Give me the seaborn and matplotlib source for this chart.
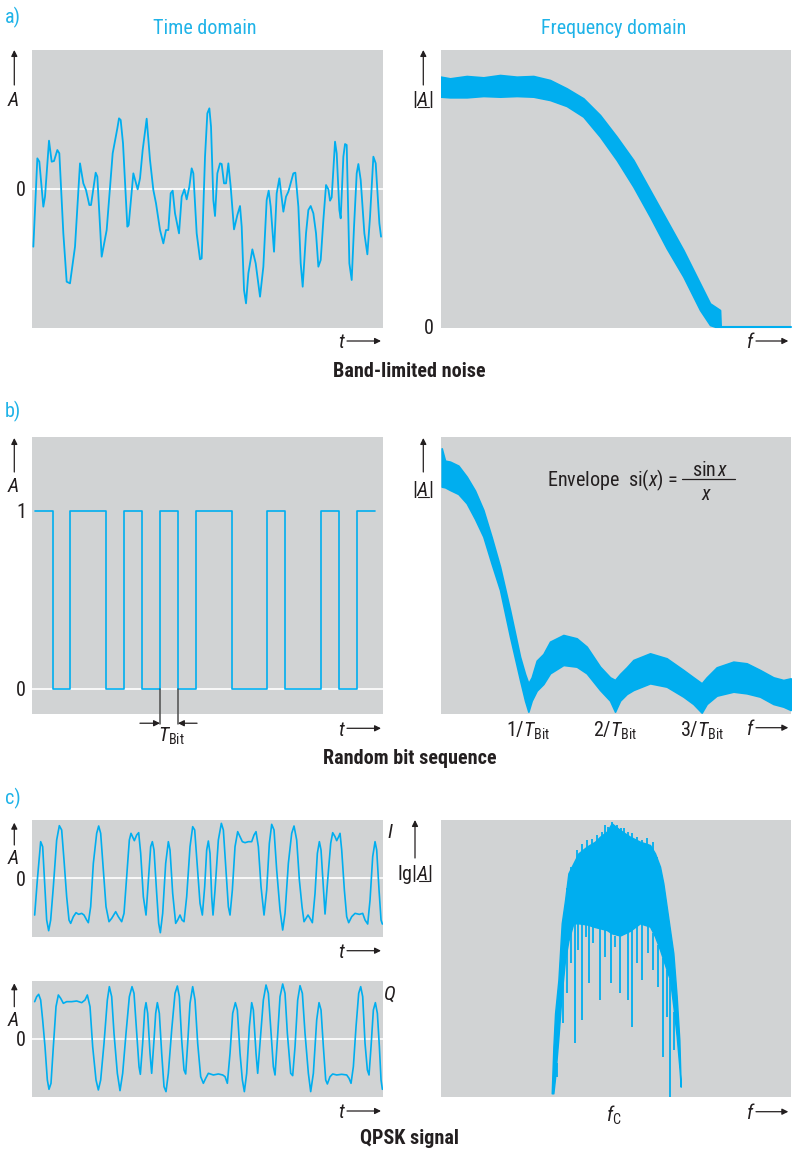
import numpy as np
import pandas as pd
import matplotlib
matplotlib.use("Agg")
import matplotlib.pyplot as plt
import seaborn as sns
from matplotlib import font_manager
from matplotlib.patches import FancyArrowPatch
from matplotlib.lines import Line2D

# ------------------------------------------------------------------ data
# a) band-limited noise, time domain (t: sample index, A: arbitrary units)
noise_t = [100, 112, 118, 130, 135, 147, 155, 162, 172, 178, 190, 200, 210, 225, 240, 250, 258, 268, 273, 287,
           292, 305, 320, 338, 352, 357, 362, 369, 382, 386, 400, 413, 420, 428, 440, 450, 460, 468, 480, 490,
           498, 505, 512, 518, 525, 537, 545, 553, 560, 568, 575, 580, 590, 600, 605, 615, 622, 628, 633, 640,
           645, 652, 660, 665, 672, 678, 685, 692, 702, 712, 720, 725, 732, 738, 745, 757, 767, 780, 790, 800,
           806, 812, 822, 830, 838, 850, 858, 865, 880, 886, 895, 902, 908, 918, 925, 932, 940, 948, 955, 962,
           970, 978, 985, 990, 995, 1005, 1010, 1018, 1022, 1030, 1035, 1040, 1048, 1055, 1062, 1070, 1075,
           1082, 1093, 1102, 1110, 1120, 1127, 1138, 1143]
noise_a = [-173, 92, 82, -53, -23, 145, 82, 84, 117, 107, -133, -278, -283, -173, 77, 17, -3, -48, -48, 49,
           37, -203, -123, 107, 182, 212, 207, 137, -113, -108, 47, -1, 32, 117, 211, 87, -3, -43, -123, -163,
           -123, -123, -13, -5, -73, -133, -23, -1, -31, 7, 62, 47, -133, -211, -208, 97, 227, 242, 187, -33,
           -81, 47, 77, 75, 17, 17, 77, 7, -121, -78, -51, -113, -303, -343, -253, -181, -223, -323, -233, -33,
           -5, -53, -188, -13, 32, -68, -23, -8, 47, 49, -53, -223, -293, -133, -63, -51, -73, -133, -233, -213,
           -93, 12, -1, -35, -25, 142, 107, -63, -88, 97, 135, 132, -223, -273, -113, 47, 75,
           27, -133, -196, -83, 97, 77, -103, -143]

# a) band-limited noise, spectrum band (f: bin, upper/lower edge of |A|)
noise_f = [122, 150, 200, 250, 300, 350, 400, 450, 500, 550, 600, 650, 700, 750, 800, 850, 900, 930, 945, 960, 962]
noise_spec_hi = [750, 745, 752, 748, 755, 750, 752, 740, 715, 685, 635, 570, 500, 410, 320, 230, 130, 70, 60, 50, 0]
noise_spec_lo = [690, 688, 688, 692, 690, 692, 690, 680, 662, 630, 570, 500, 420, 330, 235, 150, 50, 5, 0, 0, 0]
noise_floor_f = [962, 1172]
noise_floor_a = [0, 0]

# b) random bit sequence
bits = [1, 0, 1, 1, 0, 1, 0, 1, 0, 1, 1, 0, 0, 1, 0, 0, 1, 0, 1]

# b) spectrum band (f: bin, upper/lower edge of |A|)
bit_f = [125, 135, 150, 175, 200, 225, 250, 275, 300, 330, 360, 375, 385, 395, 410, 430, 450, 490, 530, 560,
         600, 630, 645, 660, 680, 700, 750, 800, 850, 880, 905, 920, 950, 1000, 1040, 1080, 1120, 1150, 1172]
bit_spec_hi = [797, 760, 757, 745, 712, 670, 612, 530, 442, 312, 172, 120, 92, 110, 160, 180, 217, 237, 227, 202,
               142, 110, 102, 120, 140, 162, 182, 167, 132, 110, 92, 110, 140, 157, 152, 132, 110, 102, 107]
bit_spec_lo = [682, 680, 672, 660, 632, 585, 532, 450, 372, 232, 102, 40, 7, 40, 70, 90, 122, 147, 142, 122,
               72, 40, 7, 40, 60, 72, 92, 82, 52, 30, 4, 30, 55, 67, 62, 52, 30, 22, 12]
bit_ticks_f = [385, 645, 905]
bit_tick_labels = [r"$1/T_{\mathrm{Bit}}$", r"$2/T_{\mathrm{Bit}}$", r"$3/T_{\mathrm{Bit}}$"]

# c) QPSK, I component
i_t = [104, 112, 122, 128, 135, 140, 146, 152, 160, 170, 178, 185, 192, 200, 207, 212, 220, 228, 236, 245,
       252, 260, 265, 272, 280, 290, 296, 302, 310, 318, 327, 335, 347, 355, 365, 372, 380, 388, 393, 403,
       410, 416, 422, 430, 438, 445, 452, 457, 462, 470, 476, 481, 488, 497, 505, 510, 518, 527, 533, 540,
       546, 552, 560, 570, 578, 584, 592, 600, 607, 614, 620, 625, 630, 635, 639, 645, 655, 664, 670, 678,
       685, 690, 697, 705, 713, 720, 727, 735, 745, 755, 762, 768, 775, 783, 792, 800, 808, 815, 822, 830,
       840, 848, 855, 865, 875, 882, 890, 898, 906, 912, 918, 924, 930, 937, 945, 952, 958, 963, 970, 975,
       983, 992, 998, 1005, 1010, 1016, 1020, 1025, 1033, 1040, 1046, 1055, 1065, 1078, 1088, 1095, 1103,
       1110, 1118, 1125, 1130, 1137, 1143, 1147]
i_a = [-110, -5, 110, 95, -35, -125, -157, -125, -25, 115, 158, 145, 55, -55, -125, -135, -115, -103, -108, -105,
       -110, -125, -133, -85, 45, 135, 157, 135, 25, -85, -130, -120, -100, -115, -130, -105, 5, 115, 135, 113,
       130, 137, 75, -55, -110, -5, 95, 110, 85, -45, -135, -163, -105, 45, 110, 85, -45, -135, -125, -110,
       -125, -130, -55, 95, 155, 145, 35, -75, -110, -25, 85, 112, 75, -55, -110, -35, 115, 165, 145, 25,
       -85, -110, -35, 95, 140, 125, 110, 107, 110, 110, 130, 140, 95, -25, -110, -35, 105, 162, 145, 25,
       -95, -155, -105, 45, 135, 157, 115, -5, -85, -130, -120, -110, -120, -133, -45, 75, 110, 85, -25, -107,
       -5, 105, 137, 125, 113, 125, 135, 85, -35, -115, -133, -115, -105, -108, -105, -125, -137,
       -65, 65, 110, 85, -35, -125, -137]

# c) QPSK, Q component
q_t = [104, 110, 116, 122, 128, 135, 142, 147, 153, 160, 168, 175, 182, 190, 200, 215, 230, 245, 255, 262,
       270, 278, 288, 295, 302, 312, 322, 328, 335, 342, 352, 360, 368, 378, 388, 396, 402, 410, 417, 421,
       428, 434, 438, 443, 450, 455, 462, 467, 472, 478, 485, 492, 498, 505, 515, 525, 532, 538, 545, 552,
       557, 563, 570, 578, 585, 593, 602, 610, 617, 625, 640, 655, 668, 675, 682, 690, 698, 706, 712, 720,
       727, 733, 740, 748, 755, 760, 768, 773, 780, 790, 798, 805, 813, 820, 825, 832, 840, 848, 855, 862,
       872, 878, 885, 893, 900, 907, 915, 925, 932, 940, 950, 957, 963, 970, 977, 982, 990, 998, 1010, 1025,
       1040, 1047, 1053, 1060, 1068, 1076, 1082, 1088, 1095, 1102, 1107, 1113, 1120, 1126, 1132, 1138, 1143, 1147]
q_a = [113, 128, 135, 118, 58, -22, -122, -150, -132, -22, 98, 133, 123, 108, 113, 113, 115, 110, 118, 133,
       98, -22, -122, -152, -122, -12, 118, 158, 128, 18, -102, -154, -102, 18, 128, 158, 138, 18, -82, -105,
       -12, 88, 110, 78, -42, -102, -2, 78, 110, 78, -42, -142, -157, -102, 28, 138, 160, 128, -2, -92,
       -104, -12, 108, 158, 118, -12, -112, -132, -117, -102, -107, -104, -107, -112, -132, -42, 78, 110, 88, -42,
       -122, -157, -102, 38, 110, 88, -42, -102, -12, 118, 163, 138, 18, -82, -107, -2, 128, 166, 138, 18,
       -102, -109, -22, 118, 161, 138, 18, -102, -157, -102, 58, 110, 88, -22, -122, -134, -112, -104, -107, -105,
       -107, -117, -132, -82, 38, 138, 158, 128, -12, -92, -107, -22, 88, 110, 78, -22, -122, -150]

# c) QPSK spectrum (f: bin, lg|A| band edges + single deep/high spectral lines)
qpsk_f_hi = [455, 460, 465, 475, 485, 495, 505, 520, 535, 560, 585, 600, 620, 635, 660, 690, 720, 750, 765,
             780, 790, 800, 810, 820, 830, 838, 842]
qpsk_hi = [11, 151, 251, 351, 521, 591, 671, 701, 731, 751, 766, 781, 796, 821, 801, 781, 766, 756, 731,
           691, 641, 571, 501, 431, 301, 171, 31]
qpsk_f_lo = [455, 460, 470, 480, 490, 500, 520, 550, 580, 620, 650, 680, 720, 750, 770, 790, 810, 825, 835, 842]
qpsk_lo = [11, 11, 101, 251, 371, 451, 521, 521, 511, 501, 481, 491, 521, 511, 471, 411, 351, 231, 131, 31]
qpsk_dip_f = [470, 478, 488, 500, 512, 525, 535, 545, 557, 567, 580, 600, 615, 632, 645, 660, 683, 697, 712,
              727, 745, 760, 775, 788, 800, 809, 822]
qpsk_dip = [61, 221, 221, 311, 401, 161, 441, 231, 481, 341, 461, 291, 421, 341, 451, 311, 291, 211, 401,
            351, 431, 381, 331, 121, 241, 1, 141]
qpsk_peak_f = [500, 512, 530, 545, 560, 575, 590, 605, 615, 625, 635, 650, 662, 672, 685, 695, 712, 725, 740,
               758, 772]
qpsk_peak = [621, 691, 741, 760, 771, 775, 786, 796, 816, 811, 826, 816, 806, 806, 796, 791, 781, 771, 776,
             766, 721]
qpsk_fc = 640

# ------------------------------------------------------------------ style
sns.set_style("white")
names = {f.name for f in font_manager.fontManager.ttflist}
FONT, FS = "Liberation Sans", 12.3
for cand in ["Roboto Condensed", "Liberation Sans Narrow", "Arial Narrow", "Open Sans Condensed",
             "Noto Sans Condensed", "DejaVu Sans Condensed"]:
    if cand in names:
        FONT, FS = cand, 14.5
        break
plt.rcParams["font.family"] = [FONT, "DejaVu Sans"]
plt.rcParams["mathtext.fontset"] = "custom"
plt.rcParams["mathtext.rm"] = FONT
plt.rcParams["mathtext.it"] = FONT + ":italic"
plt.rcParams["mathtext.bf"] = FONT + ":bold"

BG = "#d1d3d4"
BLUE = "#00aeef"
TBLUE = "#1fb3e8"
DARK = "#231f20"

W, H = 793, 1150
fig = plt.figure(figsize=(W / 100, H / 100), dpi=100)


def fx(x):
    return x / W


def fy(y):
    return 1 - y / H


def add_ax(l, t, r, b):
    ax = fig.add_axes([l / W, 1 - b / H, (r - l) / W, (b - t) / H])
    ax.set_facecolor(BG)
    for s in ax.spines.values():
        s.set_visible(False)
    ax.set_xticks([])
    ax.set_yticks([])
    ax.set_xlabel("")
    ax.set_ylabel("")
    return ax


def txt(x, y, s, ha="center", va="center_baseline", size=None, color=DARK, **kw):
    return fig.text(fx(x), fy(y), s, ha=ha, va=va, fontsize=size or FS, color=color, **kw)


def arrow(x0, y0, x1, y1):
    fig.add_artist(FancyArrowPatch((fx(x0), fy(y0)), (fx(x1), fy(y1)), transform=fig.transFigure,
                                   arrowstyle="-|>", mutation_scale=9, lw=0.9, color=DARK,
                                   shrinkA=0, shrinkB=0))


def hline(x0, x1, y, lw=0.9, color=DARK):
    fig.add_artist(Line2D([fx(x0), fx(x1)], [fy(y), fy(y)], transform=fig.transFigure, lw=lw, color=color))


def yaxis_label(x_arrow, y_from, y_to, label_x, label_y, label):
    arrow(x_arrow, y_from, x_arrow, y_to)
    txt(label_x, label_y, label, style="italic")


def t_arrow(y, x_lab=340.7, x0=347, x1=381, lab="t"):
    txt(x_lab, y, lab, style="italic")
    arrow(x0, y, x1, y)


# ------------------------------------------------------------------ a) band-limited noise
txt(5, 15, "a)", ha="left", color=TBLUE)
txt(205, 27, "Time domain", color=TBLUE)
txt(614, 27, "Frequency domain", color=TBLUE)

ax = add_ax(32, 50, 382.7, 327.7)
ax.axhline(0, color="white", lw=1.2, zorder=1)
sns.lineplot(x=noise_t, y=noise_a, ax=ax, color=BLUE, lw=1.3, estimator=None, sort=False, zorder=3)
ax.set_xlim(96, 1148)
ax.set_ylim(-416, 417)
yaxis_label(14.3, 85, 50, 13, 98, "A")
txt(21, 189, "0")
t_arrow(341)

ax = add_ax(440.7, 50, 790.7, 327.7)
ax.fill_between(noise_f, noise_spec_lo, noise_spec_hi, color=BLUE, lw=1.2, edgecolor=BLUE)
sns.lineplot(x=noise_floor_f, y=noise_floor_a, ax=ax, color=BLUE, lw=1.5, estimator=None, clip_on=False)
ax.set_xlim(122, 1172)
ax.set_ylim(-3, 830)
arrow(423.3, 85, 423.3, 50)
txt(423, 97, r"$|A|$")
hline(417.5, 428.5, 106.5, lw=0.8)
txt(429, 326, "0")
t_arrow(341, x_lab=749.3, x0=756, x1=788.3, lab="f")

txt(409, 370, "Band-limited noise", weight="bold")

# ------------------------------------------------------------------ b) random bit sequence
txt(5, 409, "b)", ha="left", color=TBLUE)

ax = add_ax(32, 437.3, 382.7, 714.3)
ax.axhline(0, color="white", lw=1.2, zorder=1)
bit_t = list(range(len(bits) + 1))
bit_v = bits + [bits[-1]]
sns.lineplot(x=bit_t, y=bit_v, ax=ax, color=BLUE, lw=1.2, estimator=None, drawstyle="steps-post", zorder=3)
ax.set_xlim(-0.15, 19.44)
ax.set_ylim(-0.14, 1.411)
for tb in (7, 8):
    ax.plot([tb, tb], [0, -0.195], color="#4d4d4d", lw=1.1, clip_on=False, zorder=4)
ax.annotate("", xy=(7, -0.19), xytext=(5.88, -0.19), annotation_clip=False,
            arrowprops=dict(arrowstyle="-|>", mutation_scale=9, lw=0.9, color=DARK, shrinkA=0, shrinkB=0))
ax.annotate("", xy=(8, -0.19), xytext=(9.07, -0.19), annotation_clip=False,
            arrowprops=dict(arrowstyle="-|>", mutation_scale=9, lw=0.9, color=DARK, shrinkA=0, shrinkB=0))
txt(171, 734, r"$T_{\mathrm{Bit}}$")
yaxis_label(14.3, 472, 438, 13, 485, "A")
txt(21, 511, "1")
txt(21, 689, "0")
t_arrow(728.3)

ax = add_ax(440.7, 437.3, 790.7, 714)
ax.fill_between(bit_f, bit_spec_lo, bit_spec_hi, color=BLUE, lw=1.2, edgecolor=BLUE)
ax.set_xlim(122, 1172)
ax.set_ylim(0, 830)
for fpos, lab in zip(bit_ticks_f, bit_tick_labels):
    ax.text(fpos, -0.022, lab, transform=ax.get_xaxis_transform(), ha="center", va="top",
            fontsize=FS, color=DARK)
arrow(423.3, 472, 423.3, 438)
txt(423, 487, r"$|A|$")
hline(417.5, 428.5, 496.5, lw=0.8)
txt(546.7, 477, r"Envelope  si$(x)$ =", ha="left")
txt(710, 469, r"sin$\,x$")
hline(682, 735, 478.5, lw=0.9)
txt(707, 493, r"$x$")
t_arrow(727.7, x_lab=749.3, x0=756, x1=788.3, lab="f")

txt(410, 757, "Random bit sequence", weight="bold")

# ------------------------------------------------------------------ c) QPSK signal
txt(5, 796, "c)", ha="left", color=TBLUE)

ax = add_ax(32, 820, 382.7, 936.7)
ax.axhline(0, color="white", lw=1.2, zorder=1)
sns.lineplot(x=i_t, y=i_a, ax=ax, color=BLUE, lw=1.2, estimator=None, sort=False, zorder=3)
ax.set_xlim(96, 1148)
ax.set_ylim(-175, 175)
yaxis_label(14.3, 845, 822.7, 13, 857, "A")
txt(21, 878, "0")
t_arrow(950.7)
txt(390, 831, "I", style="italic")

ax = add_ax(32, 981, 382.7, 1097.3)
ax.axhline(0, color="white", lw=1.2, zorder=1)
sns.lineplot(x=q_t, y=q_a, ax=ax, color=BLUE, lw=1.2, estimator=None, sort=False, zorder=3)
ax.set_xlim(96, 1148)
ax.set_ylim(-174, 175)
yaxis_label(14.3, 1006.7, 983.3, 13, 1018, "A")
txt(21, 1039, "0")
t_arrow(1111)
txt(390, 992, "Q", style="italic")

ax = add_ax(440.7, 820, 790.7, 1097)
ax.fill_between(qpsk_f_hi, np.interp(qpsk_f_hi, qpsk_f_lo, qpsk_lo), qpsk_hi, color=BLUE, lw=1.0,
                edgecolor=BLUE)
lo_at_dip = np.interp(qpsk_dip_f, qpsk_f_lo, qpsk_lo)
ax.vlines(qpsk_dip_f, qpsk_dip, lo_at_dip, color=BLUE, lw=1.3)
hi_at_peak = np.interp(qpsk_peak_f, qpsk_f_hi, qpsk_hi)
ax.vlines(qpsk_peak_f, hi_at_peak - 5, qpsk_peak, color=BLUE, lw=1.3)
ax.set_xlim(122, 1172)
ax.set_ylim(0, 831)
ax.text(qpsk_fc, -0.025, r"$f_{\mathrm{C}}$", transform=ax.get_xaxis_transform(), ha="center", va="top",
        fontsize=FS, color=DARK)
arrow(415, 858, 415, 820)
txt(415, 872, r"lg$|A|$")
hline(418.5, 428.5, 881, lw=0.8)
t_arrow(1111.7, x_lab=749.3, x0=756, x1=788.3, lab="f")

txt(409, 1137, "QPSK signal", weight="bold")

fig.savefig("out.png", dpi=100, facecolor="white")
